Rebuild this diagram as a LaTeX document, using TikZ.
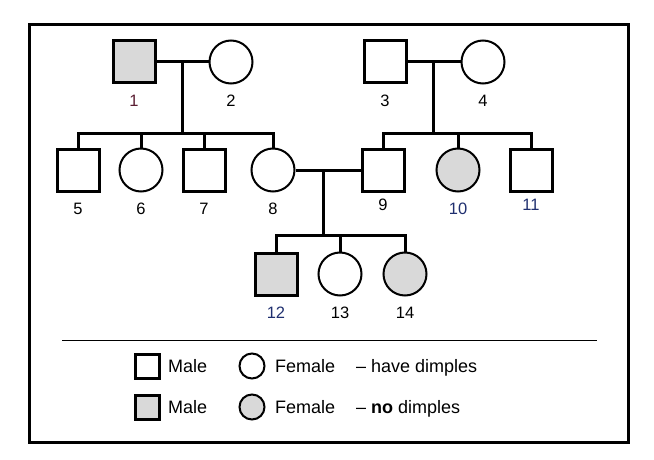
\documentclass[tikz,border=0pt]{standalone}
\usepackage{fontspec}
\setmainfont{Liberation Sans}
\usetikzlibrary{positioning}
\definecolor{nodimple}{HTML}{D9D9D9}
\definecolor{lblred}{HTML}{5A1E32}
\definecolor{lblblue}{HTML}{1F2F6F}

\tikzset{
  male/.style={draw, line width=3pt, rectangle, minimum size=42pt, inner sep=0pt},
  female/.style={draw, line width=2pt, circle, minimum size=43pt, inner sep=0pt},
  smale/.style={draw, line width=3pt, rectangle, minimum size=24pt, inner sep=0pt},
  sfemale/.style={draw, line width=2pt, circle, minimum size=25pt, inner sep=0pt},
  affected/.style={fill=nodimple},
  num/.style={font=\fontsize{16.5}{19}\selectfont, inner sep=1pt},
  legtext/.style={font=\fontsize{18}{21}\selectfont, anchor=base west, inner sep=0pt},
  tie/.style={line width=3pt}
}

\begin{document}
\begin{tikzpicture}[x=1pt, y=-1pt, node distance=9pt]
\useasboundingbox (0,0) rectangle (654,460);
\draw [line width=3pt] (29.5,24.5) rectangle (628.5,442.5);

% generation I
\node (p1) at (134,62) [male, affected] {};
\node (p2) at (231,62) [female] {};
\node (p3) at (385,62) [male] {};
\node (p4) at (483,62) [female] {};

% generation II
\node (p5) at (78,170) [male] {};
\node (p6) at (141,170) [female] {};
\node (p7) at (204,170) [male] {};
\node (p8) at (273,170) [female] {};
\node (p9) at (383,170) [male] {};
\node (p10) at (458,170) [female, affected] {};
\node (p11) at (531,170) [male] {};

% generation III
\node (p12) at (276,274) [male, affected] {};
\node (p13) at (340,274) [female] {};
\node (p14) at (405,274) [female, affected] {};

\node (l1) [num, below=of p1, text=lblred] {1};
\node (l2) [num, below=of p2] {2};
\node (l3) [num, below=of p3] {3};
\node (l4) [num, below=of p4] {4};
\node (l5) [num, below=of p5] {5};
\node (l6) [num, below=of p6] {6};
\node (l7) [num, below=of p7] {7};
\node (l8) [num, below=of p8] {8};
\node (l9) [num, below=5pt of p9] {9};
\node (l10) [num, below=of p10, text=lblblue] {10};
\node (l11) [num, below=5pt of p11, text=lblblue] {11};
\node (l12) [num, below=of p12, text=lblblue] {12};
\node (l13) [num, below=of p13] {13};
\node (l14) [num, below=of p14] {14};

\coordinate (c12) at (182,62);
\coordinate (c34) at (433,62);
\coordinate (c89) at (323,170);
\coordinate (s12) at (182,133);
\coordinate (s34) at (433,133);
\coordinate (s89) at (323,235);

\draw [tie] (p1) -- (p2);
\draw [tie] (p3) -- (p4);
\draw [tie] (p8) -- (p9);
\draw [tie] (c12) -- (s12);
\draw [tie] (c34) -- (s34);
\draw [tie] (c89) -- (s89);

\draw [tie] (p5.north) |- (s12) -| (p8.north);
\draw [tie] (p6.north) -- (p6.north |- s12);
\draw [tie] (p7.north) -- (p7.north |- s12);
\draw [tie] (p9.north) |- (s34) -| (p11.north);
\draw [tie] (p10.north) -- (p10.north |- s34);
\draw [tie] (p12.north) |- (s89) -| (p14.north);
\draw [tie] (p13.north) -- (p13.north |- s89);

% key
\coordinate (k1) at (62,340);
\coordinate (k2) at (597,340);
\draw [line width=1pt] (k1) -- (k2);

\node (km1) at (147,366) [smale] {};
\node (kt1) at (168,372) [legtext] {Male};
\node (kf1) at (252,366) [sfemale] {};
\node (kt2) at (275,372) [legtext] {Female};
\node (kt3) at (356,372) [legtext] {-- have dimples};

\node (km2) at (147,407) [smale, affected] {};
\node (kt4) at (168,413) [legtext] {Male};
\node (kf2) at (252,407) [sfemale, affected] {};
\node (kt5) at (275,413) [legtext] {Female};
\node (kt6) at (356,413) [legtext] {-- \textbf{no} dimples};
\end{tikzpicture}
\end{document}
